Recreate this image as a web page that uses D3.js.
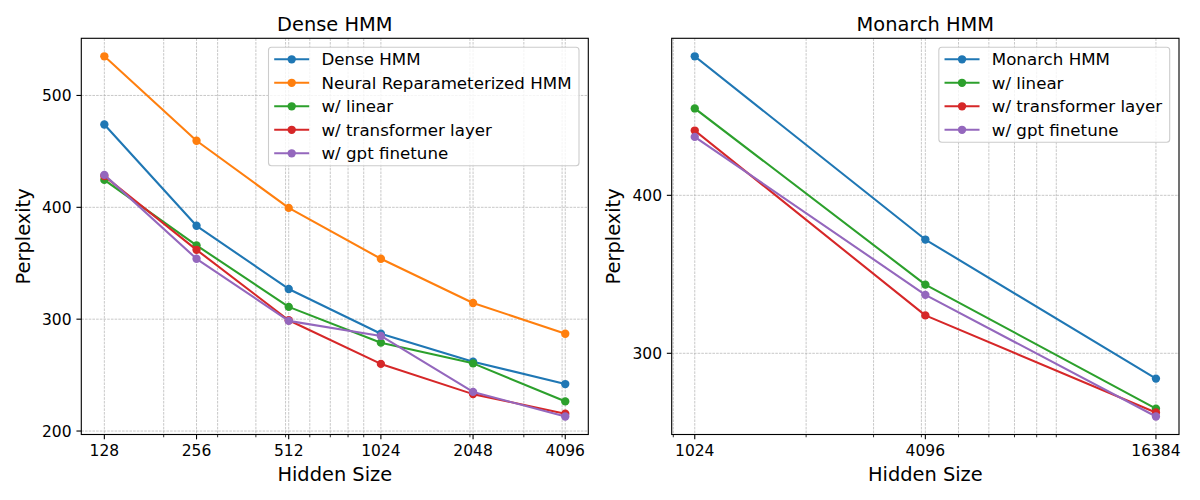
<!DOCTYPE html>
<html>
<head>
<meta charset="utf-8">
<script src="https://cdn.jsdelivr.net/npm/d3@7"></script>
<style>
  html, body { margin: 0; padding: 0; background: #fff; }
  svg { display: block; font-family: "DejaVu Sans", sans-serif; }
</style>
</head>
<body>
<svg id="chart" width="1200" height="500"></svg>
<script>
// ---------- data ----------
const hiddenDense = [128, 256, 512, 1024, 2048, 4096];
const denseHMM = [474, 383.5, 327, 287, 262, 242];
const neuralHMM = [535, 459.5, 399.5, 354, 314.5, 287];
const denseLinear = [424.5, 366, 311, 279, 260.5, 226.5];
const denseTransformer = [428, 362, 299, 260, 233, 215.5];
const denseGpt = [429, 354, 298.5, 285, 235, 213];

const hiddenMonarch = [1024, 4096, 16384];
const monarchHMM = [488, 372, 284];
const monarchLinear = [455, 343.5, 265];
const monarchTransformer = [441, 324, 262.5];
const monarchGpt = [437, 337, 260];

const yTicksDense = [200, 300, 400, 500];
const yTicksMonarch = [300, 400];

const panels = [
  {
    title: "Dense HMM",
    x: hiddenDense,
    yTicks: yTicksDense,
    series: [
      { name: "Dense HMM", values: denseHMM, color: "#1f77b4" },
      { name: "Neural Reparameterized HMM", values: neuralHMM, color: "#ff7f0e" },
      { name: "w/ linear", values: denseLinear, color: "#2ca02c" },
      { name: "w/ transformer layer", values: denseTransformer, color: "#d62728" },
      { name: "w/ gpt finetune", values: denseGpt, color: "#9467bd" }
    ],
    left: 81.3, right: 588.3
  },
  {
    title: "Monarch HMM",
    x: hiddenMonarch,
    yTicks: yTicksMonarch,
    series: [
      { name: "Monarch HMM", values: monarchHMM, color: "#1f77b4" },
      { name: "w/ linear", values: monarchLinear, color: "#2ca02c" },
      { name: "w/ transformer layer", values: monarchTransformer, color: "#d62728" },
      { name: "w/ gpt finetune", values: monarchGpt, color: "#9467bd" }
    ],
    left: 671.7, right: 1179
  }
];

const plotTop = 38.3, plotBottom = 434.5;
const svg = d3.select("#chart");

panels.forEach(p => {
  const g = svg.append("g");
  // x domain in log2 with 5% margin
  const lx = p.x.map(v => Math.log2(v));
  const lmin = d3.min(lx), lmax = d3.max(lx), lr = lmax - lmin;
  const xDom = [Math.pow(2, lmin - 0.05 * lr), Math.pow(2, lmax + 0.05 * lr)];
  const x = d3.scaleLog().base(2).domain(xDom).range([p.left, p.right]);

  const allY = p.series.flatMap(s => s.values);
  const ymin = d3.min(allY), ymax = d3.max(allY), yr = ymax - ymin;
  const y = d3.scaleLinear().domain([ymin - 0.05 * yr, ymax + 0.05 * yr]).range([plotBottom, plotTop]);

  // minor ticks (base-10 subs 2..9)
  const minor = [];
  for (let k = Math.floor(Math.log10(xDom[0])); k <= Math.ceil(Math.log10(xDom[1])); k++) {
    for (let s = 2; s <= 9; s++) {
      const v = s * Math.pow(10, k);
      if (v >= xDom[0] && v <= xDom[1]) minor.push(v);
    }
  }

  const gridStyle = sel => sel.attr("stroke", "#b0b0b0").attr("stroke-width", 0.7)
    .attr("stroke-dasharray", "2.6,1.1").attr("fill", "none");

  // grid
  const grid = g.append("g");
  grid.selectAll(null).data(p.x.concat(minor)).enter().append("line")
    .attr("x1", d => x(d)).attr("x2", d => x(d)).attr("y1", plotTop).attr("y2", plotBottom)
    .call(gridStyle);
  grid.selectAll(null).data(p.yTicks).enter().append("line")
    .attr("x1", p.left).attr("x2", p.right).attr("y1", d => y(d)).attr("y2", d => y(d))
    .call(gridStyle);

  // series
  const line = d3.line().x(d => x(d[0])).y(d => y(d[1]));
  p.series.forEach(s => {
    const pts = p.x.map((xv, i) => [xv, s.values[i]]);
    g.append("path").attr("d", line(pts)).attr("fill", "none")
      .attr("stroke", s.color).attr("stroke-width", 2.08).attr("stroke-linejoin", "round")
      .attr("stroke-linecap", "square");
    g.selectAll(null).data(pts).enter().append("circle")
      .attr("cx", d => x(d[0])).attr("cy", d => y(d[1])).attr("r", 4.17)
      .attr("fill", s.color);
  });

  // spines
  g.append("rect").attr("x", p.left).attr("y", plotTop)
    .attr("width", p.right - p.left).attr("height", plotBottom - plotTop)
    .attr("fill", "none").attr("stroke", "#000").attr("stroke-width", 1.11);

  // x ticks
  g.selectAll(null).data(p.x).enter().append("line")
    .attr("x1", d => x(d)).attr("x2", d => x(d)).attr("y1", plotBottom).attr("y2", plotBottom + 4.86)
    .attr("stroke", "#000").attr("stroke-width", 1.11);
  g.selectAll(null).data(minor).enter().append("line")
    .attr("x1", d => x(d)).attr("x2", d => x(d)).attr("y1", plotBottom).attr("y2", plotBottom + 2.78)
    .attr("stroke", "#000").attr("stroke-width", 0.83);
  g.selectAll(null).data(p.x).enter().append("text")
    .attr("x", d => x(d)).attr("y", 456).attr("text-anchor", "middle")
    .attr("font-size", "15.5px").attr("fill", "#000").text(d => d);

  // y ticks
  g.selectAll(null).data(p.yTicks).enter().append("line")
    .attr("x1", p.left - 4.86).attr("x2", p.left).attr("y1", d => y(d)).attr("y2", d => y(d))
    .attr("stroke", "#000").attr("stroke-width", 1.11);
  g.selectAll(null).data(p.yTicks).enter().append("text")
    .attr("x", p.left - 9.7).attr("y", d => y(d)).attr("dy", "0.36em")
    .attr("text-anchor", "end").attr("font-size", "15.5px").attr("fill", "#000").text(d => d);

  const cx = (p.left + p.right) / 2;
  // title
  g.append("text").attr("x", cx).attr("y", 31.3).attr("text-anchor", "middle")
    .attr("font-size", "19.4px").attr("fill", "#000").text(p.title);
  // x label
  g.append("text").attr("x", cx).attr("y", 480.5).attr("text-anchor", "middle")
    .attr("font-size", "19.4px").attr("fill", "#000").text("Hidden Size");
  // y label
  const ly = (plotTop + plotBottom) / 2;
  const lxp = p.left - 51.5;
  g.append("text").attr("transform", `translate(${lxp},${ly}) rotate(-90)`)
    .attr("text-anchor", "middle").attr("font-size", "19.4px").attr("fill", "#000")
    .text("Perplexity");

  // legend
  const lg = g.append("g");
  const box = lg.append("rect");
  const rowH = 23.5;
  const texts = [];
  p.series.forEach(s => {
    const t = lg.append("text").attr("font-size", "16.67px").attr("fill", "#000").text(s.name);
    texts.push(t);
  });
  const maxW = d3.max(texts, t => t.node().getComputedTextLength());
  const boxRight = p.right - 9.3;
  const textX = boxRight - 7.5 - maxW;
  const handleX0 = textX - 47.3;
  const boxLeft = handleX0 - 5.7;
  const boxTop = plotTop + 9;
  const firstRow = boxTop + 12;
  const boxH = (p.series.length - 1) * rowH + 24.4;
  box.attr("x", boxLeft).attr("y", boxTop).attr("width", boxRight - boxLeft).attr("height", boxH)
    .attr("rx", 3).attr("ry", 3)
    .attr("fill", "rgba(255,255,255,0.8)").attr("stroke", "#cccccc").attr("stroke-width", 1.1);
  p.series.forEach((s, i) => {
    const ry = firstRow + i * rowH;
    lg.append("line").attr("x1", handleX0).attr("x2", handleX0 + 35).attr("y1", ry).attr("y2", ry)
      .attr("stroke", s.color).attr("stroke-width", 2.08);
    lg.append("circle").attr("cx", handleX0 + 17.5).attr("cy", ry).attr("r", 4.17).attr("fill", s.color);
    texts[i].attr("x", textX).attr("y", ry + 6);
  });
});
</script>
</body>
</html>
